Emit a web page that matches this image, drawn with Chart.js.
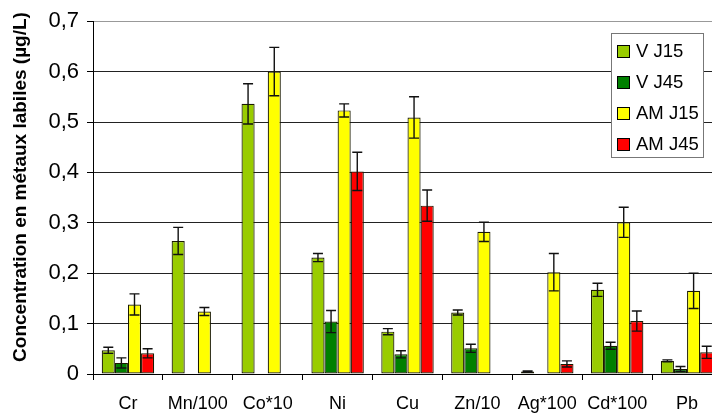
<!DOCTYPE html>
<html>
<head>
<meta charset="utf-8">
<script src="https://cdn.jsdelivr.net/npm/chart.js@4/dist/chart.umd.min.js"></script>
<style>
html,body{margin:0;padding:0;background:#fff;overflow:hidden;}
#wrap{width:724px;height:414px;position:relative;}
</style>
</head>
<body>
<div id="wrap"><canvas id="c"></canvas></div>
<script>
const categories = ['Cr', 'Mn/100', 'Co*10', 'Ni', 'Cu', 'Zn/10', 'Ag*100', 'Cd*100', 'Pb'];
const seriesNames = ['V J15', 'V J45', 'AM J15', 'AM J45'];
const vJ15 = [0.047, 0.264, 0.536, 0.231, 0.084, 0.122, 0.005, 0.167, 0.026];
const vJ45 = [0.022, 0, 0, 0.104, 0.039, 0.051, 0, 0.056, 0.010];
const amJ15 = [0.138, 0.124, 0.600, 0.523, 0.509, 0.282, 0.202, 0.301, 0.165];
const amJ45 = [0.041, 0, 0, 0.402, 0.334, 0, 0.020, 0.105, 0.043];
const errVJ15 = [0.006, 0.027, 0.040, 0.008, 0.006, 0.005, 0.001, 0.013, 0.002];
const errVJ45 = [0.010, 0, 0, 0.022, 0.007, 0.008, 0, 0.007, 0.005];
const errAmJ15 = [0.021, 0.008, 0.048, 0.013, 0.041, 0.019, 0.037, 0.030, 0.035];
const errAmJ45 = [0.009, 0, 0, 0.038, 0.031, 0, 0.006, 0.020, 0.012];
const yTickLabels = ['0', '0,1', '0,2', '0,3', '0,4', '0,5', '0,6', '0,7'];
const yTitle = 'Concentration en métaux labiles (µg/L)';

const FONT = '"Liberation Sans", Arial, sans-serif';
const colors = ['#99CC00', '#008000', '#FFFF00', '#FF0000'];
const values = [vJ15, vJ45, amJ15, amJ45];
const errors = [errVJ15, errVJ45, errAmJ15, errAmJ45];

const datasets = seriesNames.map((n, i) => ({
  label: n,
  data: values[i],
  errors: errors[i],
  backgroundColor: colors[i],
  borderColor: '#1a1a00',
  borderWidth: 1.2,
  borderSkipped: false,
  barPercentage: 1,
  categoryPercentage: 0.75
}));

const errorBars = {
  id: 'errorBars',
  afterDatasetsDraw(chart) {
    const ctx = chart.ctx;
    const ys = chart.scales.y;
    ctx.save();
    ctx.strokeStyle = '#111';
    ctx.lineWidth = 1.4;
    chart.data.datasets.forEach((ds, i) => {
      const meta = chart.getDatasetMeta(i);
      meta.data.forEach((bar, j) => {
        const v = ds.data[j], e = ds.errors[j];
        if (!e) return;
        const x = bar.x;
        const yt = ys.getPixelForValue(v + e);
        const yb = ys.getPixelForValue(Math.max(0, v - e));
        const hw = 5;
        ctx.beginPath();
        ctx.moveTo(x, yt); ctx.lineTo(x, yb);
        ctx.moveTo(x - hw, yt); ctx.lineTo(x + hw, yt);
        ctx.moveTo(x - hw, yb); ctx.lineTo(x + hw, yb);
        ctx.stroke();
      });
    });
    ctx.restore();
  }
};

const customLegend = {
  id: 'customLegend',
  afterDraw(chart) {
    const ctx = chart.ctx;
    ctx.save();
    const bx = 611.5, by = 33.5, bw = 92, bh = 124;
    ctx.fillStyle = '#fff';
    ctx.fillRect(bx, by, bw, bh);
    ctx.strokeStyle = '#777';
    ctx.lineWidth = 1;
    ctx.strokeRect(bx, by, bw, bh);
    ctx.font = '18.5px ' + FONT;
    ctx.textBaseline = 'middle';
    ctx.textAlign = 'left';
    chart.data.datasets.forEach((ds, i) => {
      const cy = 50.5 + i * 31;
      const sy = Math.round(cy - 6) + 0.5;
      ctx.fillStyle = ds.backgroundColor;
      ctx.fillRect(617.5, sy, 12, 12);
      ctx.strokeStyle = '#000';
      ctx.strokeRect(617.5, sy, 12, 12);
      ctx.fillStyle = '#000';
      ctx.fillText(ds.label, 636, cy + 1);
    });
    ctx.restore();
  }
};

const yTitlePlugin = {
  id: 'yTitlePlugin',
  afterDraw(chart) {
    const ctx = chart.ctx;
    ctx.save();
    ctx.translate(21, 187);
    ctx.rotate(-Math.PI / 2);
    ctx.font = 'bold 19px ' + FONT;
    ctx.fillStyle = '#000';
    ctx.textAlign = 'center';
    ctx.textBaseline = 'middle';
    ctx.fillText(yTitle, 0, 0);
    ctx.restore();
  }
};

new Chart(document.getElementById('c'), {
  type: 'bar',
  data: { labels: categories, datasets },
  options: {
    responsive: true,
    maintainAspectRatio: false,
    animation: false,
    layout: { padding: { top: 21, right: 2, left: 0, bottom: 0 } },
    plugins: { legend: { display: false }, tooltip: { enabled: false } },
    scales: {
      x: {
        grid: { offset: true, drawOnChartArea: false, drawTicks: true, tickLength: 6, color: '#000', lineWidth: 1 },
        border: { display: true, color: '#000', width: 1 },
        ticks: { color: '#000', font: { family: FONT, size: 18 }, padding: 13, maxRotation: 0, autoSkip: false },
        afterFit(s) { s.height = 40; }
      },
      y: {
        min: 0, max: 0.7,
        ticks: {
          stepSize: 0.1, color: '#000', font: { family: FONT, size: 22 }, padding: 8,
          callback: (v, i) => yTickLabels[i]
        },
        grid: {
          color: ctx => (ctx.tick && Math.abs(ctx.tick.value - 0.7) < 1e-6) ? '#999' : '#222',
          tickColor: '#000',
          tickLength: 6,
          lineWidth: 1
        },
        border: { display: true, color: '#000', width: 1 },
        afterFit(s) { s.width = 93; }
      }
    }
  },
  plugins: [errorBars, customLegend, yTitlePlugin]
});
</script>
</body>
</html>
